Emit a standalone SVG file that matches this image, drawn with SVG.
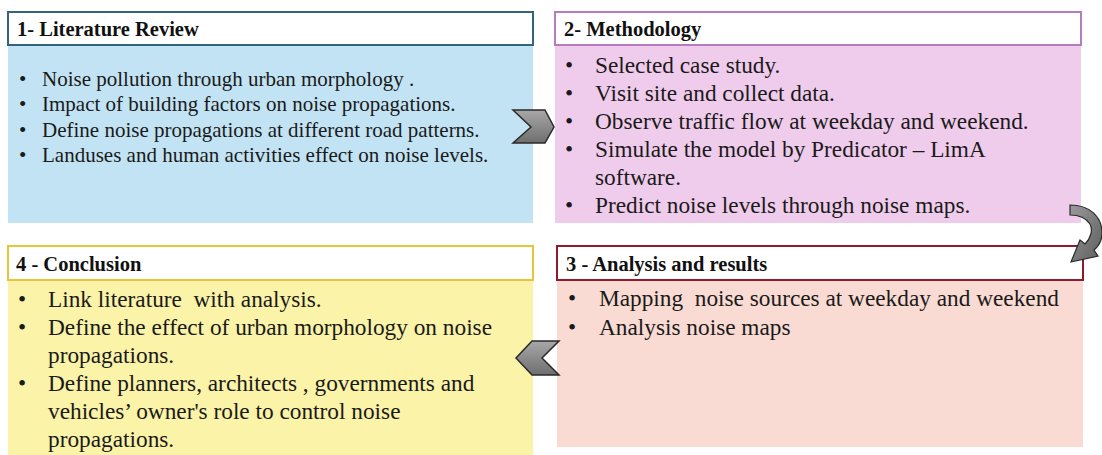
<svg xmlns="http://www.w3.org/2000/svg" width="1102" height="455" viewBox="0 0 1102 455">
<defs>
<linearGradient id="gr" x1="0" y1="0" x2="0" y2="1">
<stop offset="0" stop-color="#a8a8a8"/><stop offset="1" stop-color="#6e6e6e"/>
</linearGradient>
<linearGradient id="gr2" x1="0" y1="0" x2="1" y2="1">
<stop offset="0" stop-color="#9a9a9a"/><stop offset="1" stop-color="#5e5e5e"/>
</linearGradient>
<style>
.hd{font-family:"Liberation Serif","Times New Roman",serif;font-weight:bold;font-size:20.5px;fill:#111}
.b1{font-family:"Liberation Serif","Times New Roman",serif;font-size:21px;fill:#1a1a1a;white-space:pre}
.b2{font-family:"Liberation Serif","Times New Roman",serif;font-size:23.3px;fill:#1a1a1a;white-space:pre}
.hr{fill:#fff;stroke-width:2}
.chev{fill:url(#gr);stroke:#2a2a2a;stroke-width:1.5;stroke-linejoin:miter}
</style>
</defs>
<rect width="1102" height="455" fill="#fff"/>
<g id="box1">
<rect x="8" y="12" width="525" height="211" fill="#c2e3f3"/>
<rect class="hr" x="8" y="12" width="525" height="33" stroke="#31657a"/>
<text class="hd" x="17" y="36">1- Literature Review</text>
<text class="b1" x="19" y="86">•</text><text class="b1" x="42" y="86">Noise pollution through urban morphology .</text>
<text class="b1" x="19" y="111">•</text><text class="b1" x="42" y="111">Impact of building factors on noise propagations.</text>
<text class="b1" x="19" y="137">•</text><text class="b1" x="42" y="137">Define noise propagations at different road patterns.</text>
<text class="b1" x="19" y="162">•</text><text class="b1" x="42" y="162">Landuses and human activities effect on noise levels.</text>
</g>
<g id="box2">
<rect x="555" y="12" width="526" height="211" fill="#f0ccec"/>
<rect class="hr" x="555" y="12" width="526" height="33" stroke="#b77bbf"/>
<text class="hd" x="564" y="36">2- Methodology</text>
<text class="b2" x="565" y="73">•</text><text class="b2" x="595" y="73">Selected case study.</text>
<text class="b2" x="565" y="101">•</text><text class="b2" x="595" y="101">Visit site and collect data.</text>
<text class="b2" x="565" y="129">•</text><text class="b2" x="595" y="129">Observe traffic flow at weekday and weekend.</text>
<text class="b2" x="565" y="157">•</text><text class="b2" x="595" y="157">Simulate the model by Predicator – LimA</text>
<text class="b2" x="595" y="185">software.</text>
<text class="b2" x="565" y="213">•</text><text class="b2" x="595" y="213">Predict noise levels through noise maps.</text>
</g>
<g id="box3">
<rect x="557" y="246" width="526" height="201" fill="#f9dbd3"/>
<rect class="hr" x="557" y="246" width="526" height="34" stroke="#8e1c2c"/>
<text class="hd" x="566" y="271">3 - Analysis and results</text>
<text class="b2" x="568" y="306">•</text><text class="b2" x="599" y="306">Mapping  noise sources at weekday and weekend</text>
<text class="b2" x="568" y="335">•</text><text class="b2" x="599" y="335">Analysis noise maps</text>
</g>
<g id="box4">
<rect x="8" y="246" width="525" height="209" fill="#faf3a8"/>
<rect class="hr" x="8" y="246" width="525" height="34" stroke="#e6c53c"/>
<text class="hd" x="16" y="271">4 - Conclusion</text>
<text class="b2" x="18" y="307">•</text><text class="b2" x="48" y="307">Link literature  with analysis.</text>
<text class="b2" x="18" y="335">•</text><text class="b2" x="48" y="335">Define the effect of urban morphology on noise</text>
<text class="b2" x="48" y="363">propagations.</text>
<text class="b2" x="18" y="391">•</text><text class="b2" x="48" y="391">Define planners, architects , governments and</text>
<text class="b2" x="48" y="419">vehicles’ owner's role to control noise</text>
<text class="b2" x="48" y="447">propagations.</text>
</g>
<g id="connectors">
<polygon class="chev" points="513,110 545,110 554,127 545,143 513,143 531,127"/>
<polygon class="chev" points="559,341 532,341 516,358 532,375 559,375 542,358"/>
<path d="M1070,205 C1089,205 1102,216 1102,233 C1102,240 1099,246 1094,250 L1098,256 L1071,262 L1080,240 L1085,244 C1091,238 1093,230 1090,224 C1086,218 1079,215 1070,215 Z" fill="url(#gr2)" stroke="#2a2a2a" stroke-width="1.2"/>
</g>
</svg>
